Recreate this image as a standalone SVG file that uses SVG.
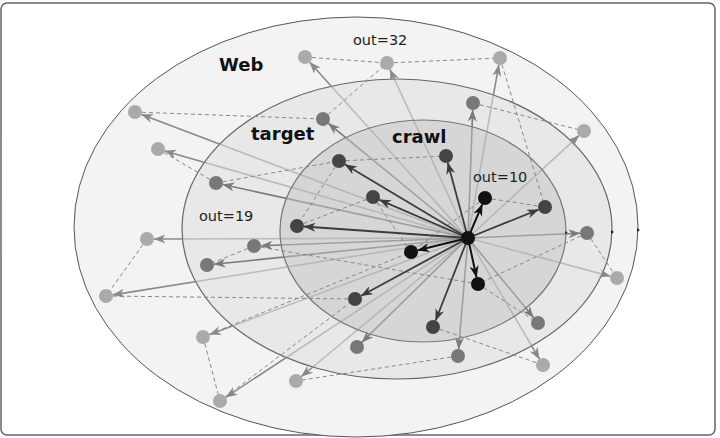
<svg xmlns="http://www.w3.org/2000/svg" width="720" height="438" viewBox="0 0 720 438">
<style>
.lbl{font-family:"DejaVu Sans","Liberation Sans",sans-serif;font-weight:bold;font-size:18px;fill:#111}
.out{font-family:"DejaVu Sans","Liberation Sans",sans-serif;font-size:14.5px;fill:#222}
.dash{stroke:#888;stroke-width:1;stroke-dasharray:4 3;fill:none}
.aw{stroke:#8a8a8a;stroke-width:1.6;fill:none;marker-end:url(#hw)}
.at{stroke:#7a7a7a;stroke-width:1.6;fill:none;marker-end:url(#ht)}
.ac{stroke:#3c3c3c;stroke-width:1.8;fill:none;marker-end:url(#hc)}
.ab{stroke:#111;stroke-width:2;fill:none;marker-end:url(#hb)}
.nb{fill:#111}.nd{fill:#444}.nm{fill:#787878}.nl{fill:#aaa}
</style>
<defs>
<marker id="hw" markerUnits="userSpaceOnUse" viewBox="0 0 12 9" refX="11.5" refY="4.5" markerWidth="12" markerHeight="9" orient="auto"><path d="M0,0 L12,4.5 L0,9 L3.5,4.5 z" fill="#8a8a8a"/></marker>
<marker id="ht" markerUnits="userSpaceOnUse" viewBox="0 0 12 9" refX="11.5" refY="4.5" markerWidth="12" markerHeight="9" orient="auto"><path d="M0,0 L12,4.5 L0,9 L3.5,4.5 z" fill="#7a7a7a"/></marker>
<marker id="hc" markerUnits="userSpaceOnUse" viewBox="0 0 12 9" refX="11.5" refY="4.5" markerWidth="12" markerHeight="9" orient="auto"><path d="M0,0 L12,4.5 L0,9 L3.5,4.5 z" fill="#3c3c3c"/></marker>
<marker id="hb" markerUnits="userSpaceOnUse" viewBox="0 0 12 9" refX="11.5" refY="4.5" markerWidth="12" markerHeight="9" orient="auto"><path d="M0,0 L12,4.5 L0,9 L3.5,4.5 z" fill="#111"/></marker>
<mask id="mWeb" maskUnits="userSpaceOnUse" x="0" y="0" width="720" height="438">
<rect width="720" height="438" fill="#fff"/>
<ellipse cx="397" cy="229" rx="215" ry="150" fill="#7a7a7a"/>
<ellipse cx="423" cy="231" rx="143" ry="111" fill="#666"/>
</mask>
<mask id="mTgt" maskUnits="userSpaceOnUse" x="0" y="0" width="720" height="438">
<rect width="720" height="438" fill="#fff"/>
<ellipse cx="423" cy="231" rx="143" ry="111" fill="#999"/>
</mask>
</defs>
<rect x="1" y="3" width="714" height="432" rx="6" fill="#fff" stroke="#666" stroke-width="1.5"/>
<g id="regions">
<ellipse id="web" cx="356" cy="227" rx="282" ry="210" fill="#f3f3f3" stroke="#555" stroke-width="1"/>
<ellipse id="target" cx="397" cy="229" rx="215" ry="150" fill="#e8e8e8" stroke="#666" stroke-width="1.2"/>
<ellipse id="crawl" cx="423" cy="231" rx="143" ry="111" fill="#d6d6d6" stroke="#777" stroke-width="1.2"/>
<path d="M565,231 l3,2 l-3,2 z M611,230 l3,2 l-3,2 z M637,228 l3,2 l-3,2 z" fill="#222"/>
</g>
<g id="connectors">
<g id="links" class="dash">
<line x1="135" y1="112" x2="323" y2="119"/>
<line x1="158" y1="149" x2="216" y2="183"/>
<line x1="216" y1="183" x2="339" y2="161"/>
<line x1="323" y1="119" x2="387" y2="63"/>
<line x1="305" y1="57" x2="387" y2="63"/>
<line x1="387" y1="63" x2="500" y2="58"/>
<line x1="339" y1="161" x2="446" y2="156"/>
<line x1="339" y1="161" x2="297" y2="226"/>
<line x1="373" y1="197" x2="297" y2="226"/>
<line x1="373" y1="197" x2="411" y2="252"/>
<line x1="473" y1="103" x2="584" y2="131"/>
<line x1="500" y1="58" x2="545" y2="207"/>
<line x1="485" y1="198" x2="545" y2="207"/>
<line x1="587" y1="233" x2="617" y2="278"/>
<line x1="587" y1="233" x2="478" y2="284"/>
<line x1="478" y1="284" x2="538" y2="323"/>
<line x1="433" y1="327" x2="543" y2="365"/>
<line x1="458" y1="356" x2="296" y2="381"/>
<line x1="106" y1="296" x2="355" y2="299"/>
<line x1="147" y1="239" x2="106" y2="296"/>
<line x1="254" y1="246" x2="207" y2="265"/>
<line x1="254" y1="246" x2="478" y2="284"/>
<line x1="203" y1="337" x2="220" y2="401"/>
<line x1="203" y1="337" x2="411" y2="252"/>
<line x1="220" y1="401" x2="355" y2="299"/>
<line x1="485" y1="198" x2="411" y2="252"/>
</g>
<g id="arrows-web" mask="url(#mWeb)">
<line class="aw" x1="468" y1="238" x2="309.7" y2="62.2"/>
<line class="aw" x1="468" y1="238" x2="389.9" y2="69.4"/>
<line class="aw" x1="468" y1="238" x2="498.8" y2="64.9"/>
<line class="aw" x1="468" y1="238" x2="578.9" y2="135.7"/>
<line class="aw" x1="468" y1="238" x2="141.5" y2="114.5"/>
<line class="aw" x1="468" y1="238" x2="164.7" y2="150.9"/>
<line class="aw" x1="468" y1="238" x2="154" y2="239"/>
<line class="aw" x1="468" y1="238" x2="112.9" y2="294.9"/>
<line class="aw" x1="468" y1="238" x2="209.6" y2="334.6"/>
<line class="aw" x1="468" y1="238" x2="225.9" y2="397.2"/>
<line class="aw" x1="468" y1="238" x2="301.4" y2="376.5"/>
<line class="aw" x1="468" y1="238" x2="610.2" y2="276.2"/>
<line class="aw" x1="468" y1="238" x2="539.4" y2="359"/>
</g>
<g id="arrows-target" mask="url(#mTgt)">
<line class="at" x1="468" y1="238" x2="328.4" y2="123.4"/>
<line class="at" x1="468" y1="238" x2="222.8" y2="184.5"/>
<line class="at" x1="468" y1="238" x2="261" y2="245.7"/>
<line class="at" x1="468" y1="238" x2="214" y2="264.3"/>
<line class="at" x1="468" y1="238" x2="472.7" y2="110"/>
<line class="at" x1="468" y1="238" x2="580" y2="233.3"/>
<line class="at" x1="468" y1="238" x2="533.5" y2="317.6"/>
<line class="at" x1="468" y1="238" x2="458.6" y2="349"/>
<line class="at" x1="468" y1="238" x2="362" y2="342.1"/>
</g>
<g id="arrows-crawl">
<line class="ac" x1="468" y1="238" x2="345" y2="164.6"/>
<line class="ac" x1="468" y1="238" x2="379.4" y2="199.8"/>
<line class="ac" x1="468" y1="238" x2="304" y2="226.5"/>
<line class="ac" x1="468" y1="238" x2="447.8" y2="162.8"/>
<line class="ac" x1="468" y1="238" x2="538.5" y2="209.6"/>
<line class="ac" x1="468" y1="238" x2="361.2" y2="295.7"/>
<line class="ac" x1="468" y1="238" x2="435.6" y2="320.5"/>
<line class="ab" x1="468" y1="238" x2="482.3" y2="204.4"/>
<line class="ab" x1="468" y1="238" x2="417.8" y2="250.3"/>
<line class="ab" x1="468" y1="238" x2="476.5" y2="277.2"/>
</g>
</g>
<g id="nodes">
<g id="hub"><circle class="nb" cx="468" cy="238" r="7"/></g>
<g id="B1"><circle class="nb" cx="485" cy="198" r="7"/></g>
<g id="B2"><circle class="nb" cx="411" cy="252" r="7"/></g>
<g id="B3"><circle class="nb" cx="478" cy="284" r="7"/></g>
<g id="D1"><circle class="nd" cx="339" cy="161" r="7"/></g>
<g id="D2"><circle class="nd" cx="373" cy="197" r="7"/></g>
<g id="D3"><circle class="nd" cx="297" cy="226" r="7"/></g>
<g id="D4"><circle class="nd" cx="446" cy="156" r="7"/></g>
<g id="D5"><circle class="nd" cx="545" cy="207" r="7"/></g>
<g id="D6"><circle class="nd" cx="355" cy="299" r="7"/></g>
<g id="D7"><circle class="nd" cx="433" cy="327" r="7"/></g>
<g id="M1"><circle class="nm" cx="323" cy="119" r="7"/></g>
<g id="M2"><circle class="nm" cx="216" cy="183" r="7"/></g>
<g id="M3"><circle class="nm" cx="254" cy="246" r="7"/></g>
<g id="M4"><circle class="nm" cx="207" cy="265" r="7"/></g>
<g id="M5"><circle class="nm" cx="473" cy="103" r="7"/></g>
<g id="M6"><circle class="nm" cx="587" cy="233" r="7"/></g>
<g id="M7"><circle class="nm" cx="538" cy="323" r="7"/></g>
<g id="M8"><circle class="nm" cx="458" cy="356" r="7"/></g>
<g id="M9"><circle class="nm" cx="357" cy="347" r="7"/></g>
<g id="L1"><circle class="nl" cx="305" cy="57" r="7"/></g>
<g id="L2"><circle class="nl" cx="387" cy="63" r="7"/></g>
<g id="L3"><circle class="nl" cx="500" cy="58" r="7"/></g>
<g id="L4"><circle class="nl" cx="584" cy="131" r="7"/></g>
<g id="L5"><circle class="nl" cx="135" cy="112" r="7"/></g>
<g id="L6"><circle class="nl" cx="158" cy="149" r="7"/></g>
<g id="L7"><circle class="nl" cx="147" cy="239" r="7"/></g>
<g id="L8"><circle class="nl" cx="106" cy="296" r="7"/></g>
<g id="L9"><circle class="nl" cx="203" cy="337" r="7"/></g>
<g id="L10"><circle class="nl" cx="220" cy="401" r="7"/></g>
<g id="L11"><circle class="nl" cx="296" cy="381" r="7"/></g>
<g id="L12"><circle class="nl" cx="617" cy="278" r="7"/></g>
<g id="L13"><circle class="nl" cx="543" cy="365" r="7"/></g>
</g>
<g id="labels">
<text class="lbl" x="219" y="71">Web</text>
<text class="lbl" x="251" y="140">target</text>
<text class="lbl" x="392" y="143">crawl</text>
<text class="out" x="353" y="45">out=32</text>
<text class="out" x="199" y="221">out=19</text>
<text class="out" x="473" y="182">out=10</text>
</g>
</svg>
